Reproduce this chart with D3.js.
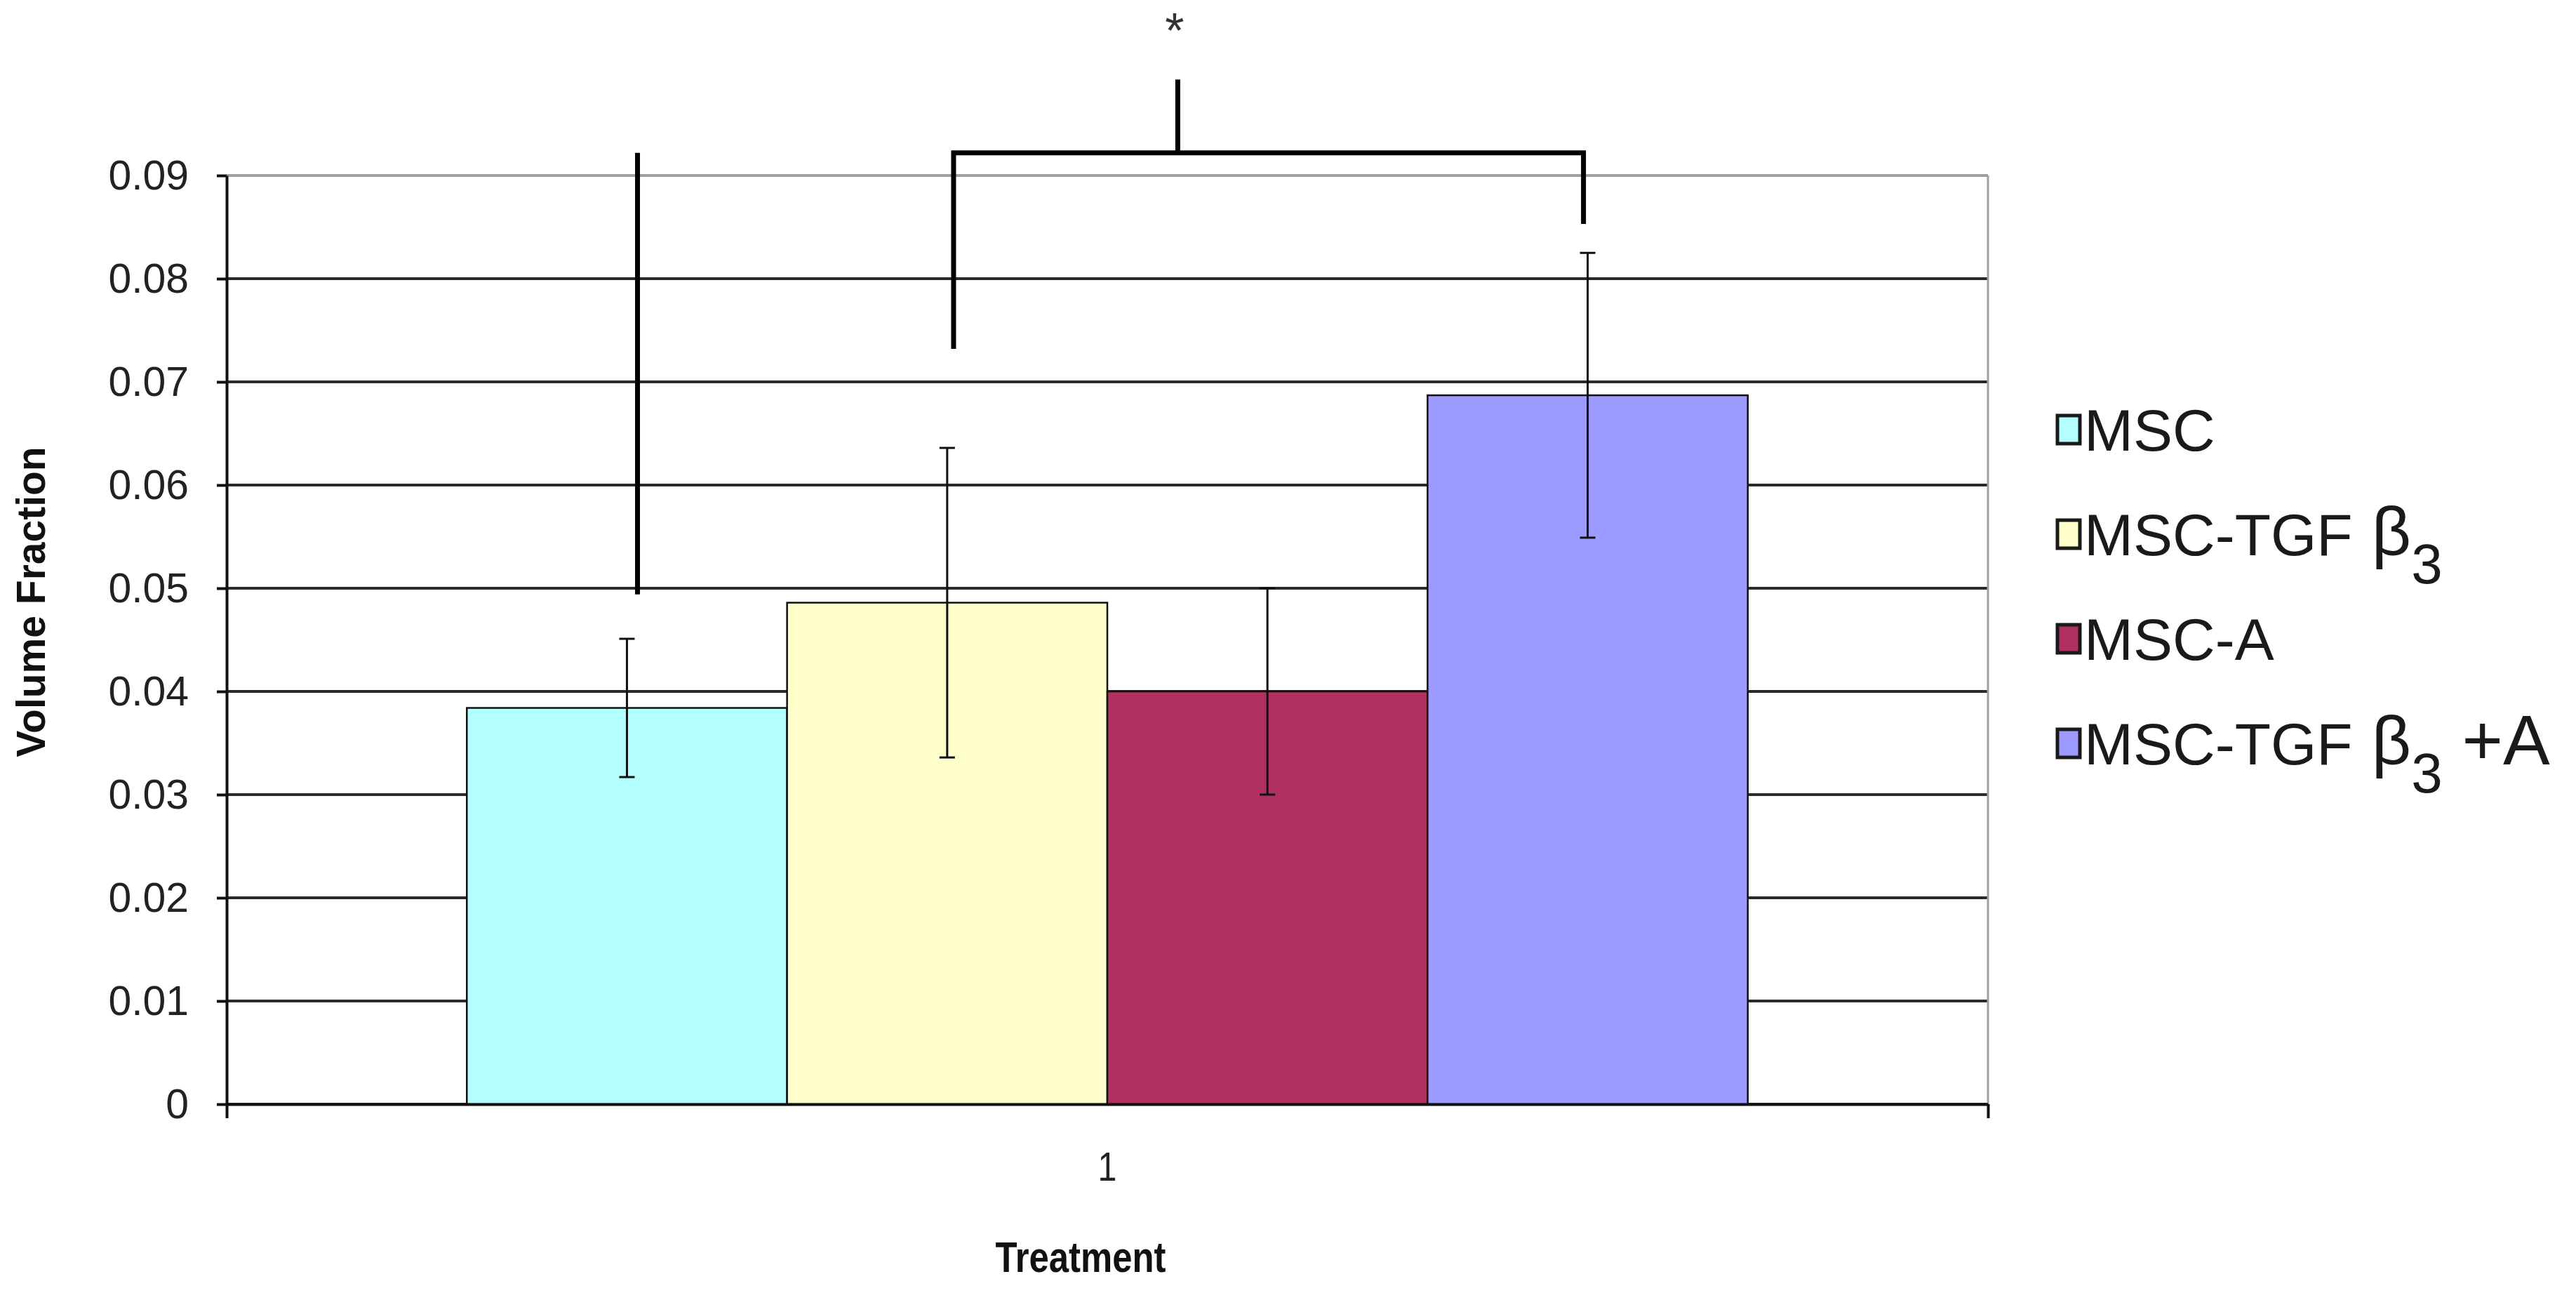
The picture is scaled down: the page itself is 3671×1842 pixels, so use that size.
<!DOCTYPE html>
<html>
<head>
<meta charset="utf-8">
<script src="https://cdn.jsdelivr.net/npm/d3@7"></script>
<style>
  html, body { margin: 0; padding: 0; background: #ffffff; }
  svg { display: block; }
  text { font-family: "Liberation Sans", Arial, sans-serif; }
</style>
</head>
<body>
<svg id="chart" width="3671" height="1842"></svg>
<script>
// ---------------- data ----------------
const categories = ["1"];
const seriesNames = ["MSC", "MSC-TGFβ3", "MSC-A", "MSC-TGFβ3 +A"];
const values = [0.0384, 0.0486, 0.0400, 0.0687];
const errors = [0.0067, 0.0150, 0.0100, 0.0138];
const colors = ["#b3ffff", "#ffffcc", "#b03062", "#9d9bff"];
const yTicks = [0, 0.01, 0.02, 0.03, 0.04, 0.05, 0.06, 0.07, 0.08, 0.09];
const yLabel = "Volume Fraction";
const xLabel = "Treatment";
// significance annotation (x in bar units: bar i spans [i, i+1]; y in data units)
const sigLineX = [0.533];
const sigLineY = [0.0494, 0.0922];
const bracketX = [1.52, 3.487];
const bracketY = [0.0922];
const bracketLegsY = [0.0732, 0.0853];
const stemX = [2.22];
const stemTopY = [0.0993];
const starX = [2.21];
const starY = [0.1048];

// ---------------- layout ----------------
const svg = d3.select("#chart");
const L = 323, R = 2833, T = 250, B = 1573;

const y = d3.scaleLinear().domain([0, 0.09]).range([B, T]);
const x0 = d3.scaleBand().domain(categories).range([L, R]).paddingInner(0).paddingOuter(0);
const x1 = d3.scaleBand().domain(seriesNames).range([0, x0.bandwidth()]).paddingInner(0).paddingOuter(0.75);
const groupStart = x0(categories[0]) + x1(seriesNames[0]);
const xu = d3.scaleLinear().domain([0, seriesNames.length])
  .range([groupStart, groupStart + seriesNames.length * x1.bandwidth()]);

function condense(sel, f) {
  sel.each(function () {
    const l = this.getComputedTextLength();
    d3.select(this).attr("textLength", l * f).attr("lengthAdjust", "spacingAndGlyphs");
  });
}

// gridlines
svg.append("g").selectAll("line").data(yTicks).join("line")
  .attr("x1", L).attr("x2", R)
  .attr("y1", d => y(d)).attr("y2", d => y(d))
  .attr("stroke", d => d === 0.09 ? "#a0a0a0" : "#2a2a2a")
  .attr("stroke-width", 4);
// right border
svg.append("line").attr("x1", R).attr("x2", R).attr("y1", y(0.09)).attr("y2", y(0))
  .attr("stroke", "#a0a0a0").attr("stroke-width", 3);

// bars
const data = seriesNames.map((s, i) => ({ s, v: values[i], e: errors[i], c: colors[i] }));
svg.append("g").selectAll("rect").data(data).join("rect")
  .attr("x", d => x0(categories[0]) + x1(d.s))
  .attr("width", x1.bandwidth())
  .attr("y", d => y(d.v))
  .attr("height", d => y(0) - y(d.v))
  .attr("fill", d => d.c)
  .attr("stroke", "#111").attr("stroke-width", 2.5);

// error bars
const eg = svg.append("g").attr("stroke", "#111").attr("stroke-width", 3);
data.forEach(d => {
  const cx = x0(categories[0]) + x1(d.s) + x1.bandwidth() / 2;
  eg.append("line").attr("x1", cx).attr("x2", cx).attr("y1", y(d.v + d.e)).attr("y2", y(d.v - d.e));
  [d.v + d.e, d.v - d.e].forEach(v => {
    eg.append("line").attr("x1", cx - 11).attr("x2", cx + 11).attr("y1", y(v)).attr("y2", y(v));
  });
});

// y axis
const yAxis = svg.append("g").attr("transform", `translate(${L},0)`)
  .call(d3.axisLeft(y).tickValues(yTicks).tickSize(14).tickSizeOuter(0).tickPadding(40)
    .tickFormat(d => d === 0 ? "0" : d3.format(".2f")(d)));
yAxis.select(".domain").attr("stroke", "#111").attr("stroke-width", 4);
yAxis.selectAll(".tick line").attr("stroke", "#111").attr("stroke-width", 4);
yAxis.selectAll("text").attr("font-size", 60).attr("fill", "#222");
condense(yAxis.selectAll("text"), 0.98);

// x axis (boundary ticks)
const xb = d3.scaleLinear().domain([0, 1]).range([L, R]);
const xAxisB = svg.append("g").attr("transform", `translate(0,${B})`)
  .call(d3.axisBottom(xb).tickValues([0, 1]).tickSize(20).tickSizeOuter(0).tickFormat(""));
xAxisB.select(".domain").attr("stroke", "#111").attr("stroke-width", 4);
xAxisB.selectAll(".tick line").attr("stroke", "#111").attr("stroke-width", 4);
// category labels
const xAxisL = svg.append("g").attr("transform", `translate(0,${B})`)
  .call(d3.axisBottom(x0).tickSize(0).tickPadding(69));
xAxisL.select(".domain").remove();
xAxisL.selectAll("text").attr("font-size", 57).attr("fill", "#222");
condense(xAxisL.selectAll("text"), 0.85);

// axis titles
svg.append("text")
  .attr("transform", `translate(64,${(634 + 1081) / 2}) rotate(-90)`)
  .attr("text-anchor", "middle").attr("font-size", 57).attr("font-weight", "bold")
  .attr("fill", "#111").text(yLabel);
const xl = svg.append("text").attr("x", 1540).attr("y", 1812)
  .attr("text-anchor", "middle").attr("font-size", 62).attr("font-weight", "bold")
  .attr("fill", "#111").text(xLabel);
condense(xl, 0.82);

// significance annotation
const ag = svg.append("g").attr("stroke", "#000").attr("stroke-width", 7).attr("fill", "none");
ag.append("line").attr("x1", xu(sigLineX[0])).attr("x2", xu(sigLineX[0]))
  .attr("y1", y(sigLineY[0])).attr("y2", y(sigLineY[1]));
ag.append("path").attr("stroke-linejoin", "miter")
  .attr("d", d3.line()([
    [xu(bracketX[0]), y(bracketLegsY[0])],
    [xu(bracketX[0]), y(bracketY[0])],
    [xu(bracketX[1]), y(bracketY[0])],
    [xu(bracketX[1]), y(bracketLegsY[1])]
  ]));
ag.append("line").attr("x1", xu(stemX[0])).attr("x2", xu(stemX[0]))
  .attr("y1", y(bracketY[0])).attr("y2", y(stemTopY[0]));
svg.append("text").attr("x", xu(starX[0])).attr("y", y(starY[0]) + 36)
  .attr("text-anchor", "middle").attr("font-size", 70).attr("fill", "#333").text("*");

// legend
const legY0 = 612, legStep = 149;
const lg = svg.append("g");
data.forEach((d, i) => {
  const cy = legY0 + i * legStep;
  lg.append("rect").attr("x", 2932).attr("y", cy - 20).attr("width", 32).attr("height", 40)
    .attr("fill", d.c).attr("stroke", "#1a1a1a").attr("stroke-width", 5);
  const t = lg.append("text").attr("x", 2970).attr("y", cy + 30)
    .attr("font-size", 84).attr("fill", "#1a1a1a");
  const m = d.s.match(/^(.*?)β3(.*)$/);
  if (m) {
    t.append("tspan").text(m[1].trim());
    t.append("tspan").attr("font-size", 98).text("\u00a0β");
    t.append("tspan").attr("font-size", 80).attr("dy", 40).text("3");
    if (m[2]) t.append("tspan").attr("dy", -40).attr("font-size", 100).text("\u00a0" + m[2].trim());
  } else {
    t.text(d.s);
  }
});
</script>
</body>
</html>
